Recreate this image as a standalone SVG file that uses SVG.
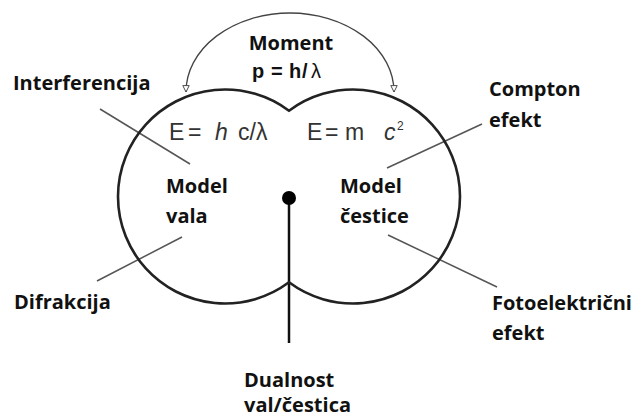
<svg xmlns="http://www.w3.org/2000/svg" width="642" height="419" viewBox="0 0 642 419">
<style>
.lbl{font-family:"Open Sans","Liberation Sans",sans-serif;font-weight:bold;font-size:20px;fill:#111}
.mom{font-family:"Liberation Sans",Arial,sans-serif;font-weight:bold;font-size:20px;fill:#111}
.eq{font-family:"Liberation Sans",Arial,sans-serif;font-size:23px;fill:#333}
.sup{font-family:"Liberation Sans",Arial,sans-serif;font-size:12px;fill:#333}
.lead{stroke:#555;stroke-width:1.5;fill:none}
</style>
<defs>
<marker id="tri" viewBox="0 0 10 10" refX="9" refY="5" markerWidth="8" markerHeight="8" orient="auto-start-reverse" markerUnits="userSpaceOnUse">
<path d="M1,1 L9,5 L1,9 z" fill="#fff" stroke="#444" stroke-width="1.2"/>
</marker>
</defs>
<rect width="642" height="419" fill="#fff"/>
<g id="connectors">
<path d="M186,92 A104,79 0 0 1 394,92" fill="none" stroke="#444" stroke-width="1.3" marker-start="url(#tri)" marker-end="url(#tri)"/>
<line class="lead" x1="100" y1="109" x2="190" y2="164"/>
<line class="lead" x1="97" y1="281" x2="182" y2="237"/>
<line class="lead" x1="387" y1="168" x2="482" y2="124"/>
<line class="lead" x1="388" y1="235" x2="497" y2="287"/>
<line x1="289" y1="198" x2="289" y2="343" stroke="#111" stroke-width="2.5"/>
</g>
<g id="duality-shape">
<path d="M289,110.75 A107,107 0 1 0 289,282.25 A107,107 0 1 0 289,110.75 Z" fill="none" stroke="#222" stroke-width="2.6"/>
<circle cx="289" cy="198" r="7" fill="#000"/>
</g>
<g id="moment">
<text class="lbl" x="291" y="50" text-anchor="middle">Moment</text>
<text class="mom" y="78"><tspan x="252">p</tspan><tspan x="271">=</tspan><tspan x="289">h</tspan><tspan x="302">/</tspan><tspan x="311" font-weight="normal">λ</tspan></text>
</g>
<g id="equations">
<text class="eq" y="140"><tspan x="169">E</tspan><tspan x="188">=</tspan><tspan x="215" font-style="italic">h</tspan><tspan x="238">c/λ</tspan></text>
<text class="eq" y="140"><tspan x="307">E</tspan><tspan x="325">=</tspan><tspan x="345">m</tspan><tspan x="384" font-style="italic">c</tspan></text>
<text class="sup" x="397" y="130">2</text>
</g>
<g id="wave-model"><text class="lbl" x="166" y="193">Model</text><text class="lbl" x="166" y="223">vala</text></g>
<g id="particle-model"><text class="lbl" x="340" y="193">Model</text><text class="lbl" x="340" y="223">čestice</text></g>
<g id="interferencija"><text class="lbl" x="13" y="90">Interferencija</text></g>
<g id="difrakcija"><text class="lbl" x="14" y="309">Difrakcija</text></g>
<g id="compton"><text class="lbl" x="489" y="96">Compton</text><text class="lbl" x="489" y="127">efekt</text></g>
<g id="fotoelektricni"><text class="lbl" x="492" y="310">Fotoelektrični</text><text class="lbl" x="492" y="340">efekt</text></g>
<g id="dualnost"><text class="lbl" x="244" y="387">Dualnost</text><text class="lbl" x="244" y="412">val/čestica</text></g>
</svg>
